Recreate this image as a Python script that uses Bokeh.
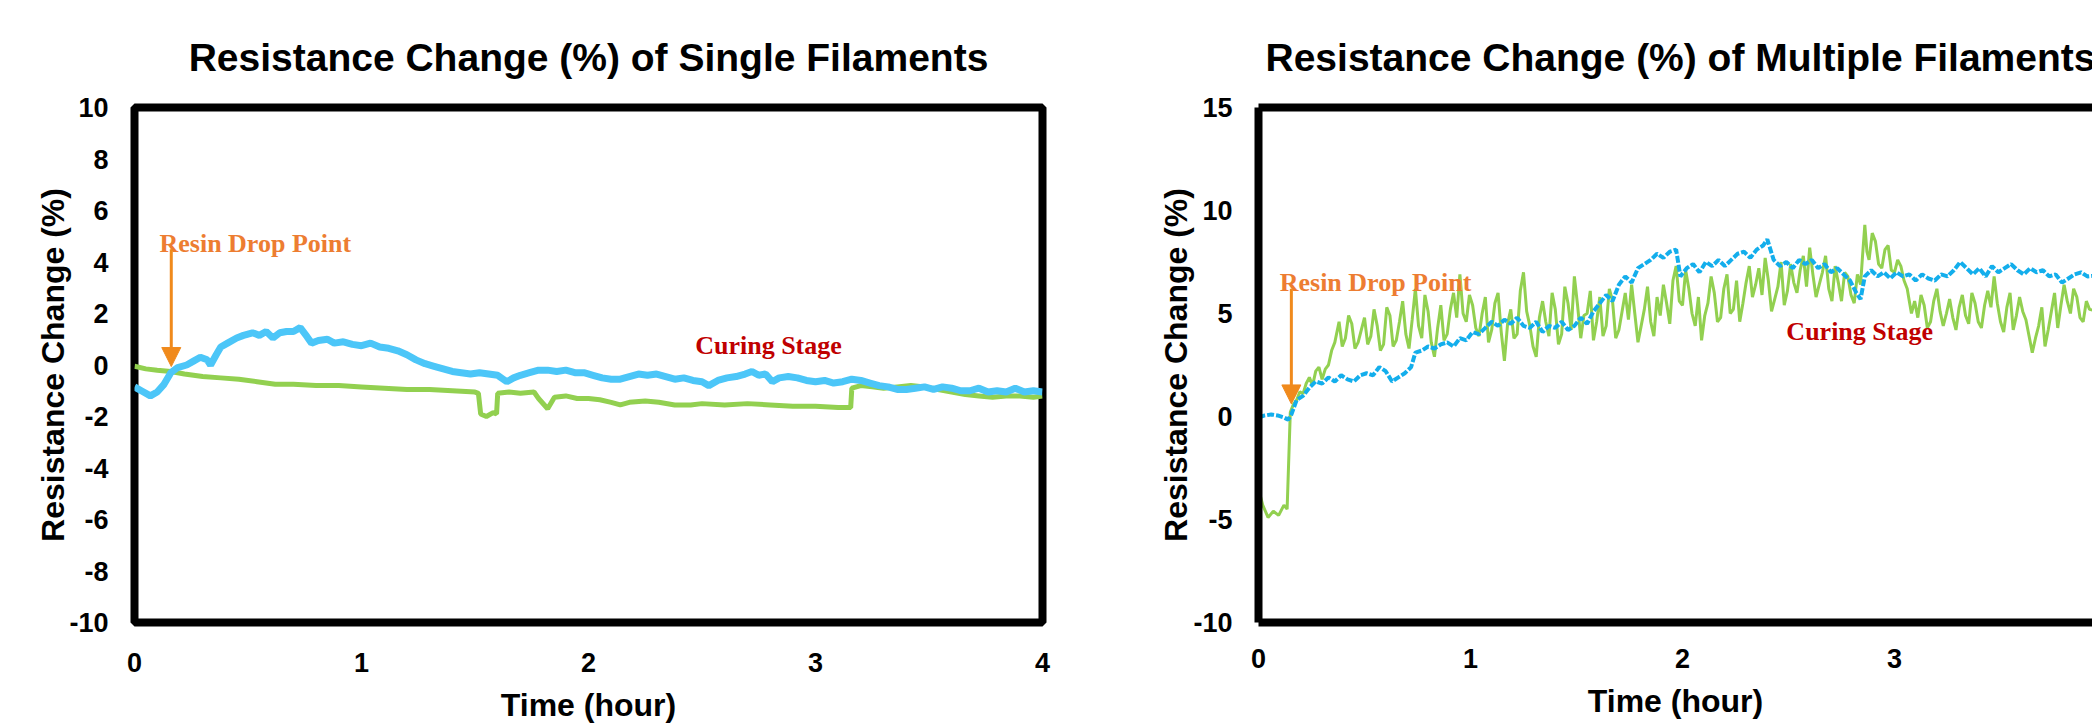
from bokeh.plotting import figure
from bokeh.models import FixedTicker, LinearAxis, Label, Arrow, NormalHead, Range1d
from bokeh.layouts import row
from bokeh.embed import file_html
from bokeh.resources import INLINE

# ---------------- data ----------------
x_ticks = [0, 1, 2, 3, 4]
single_y_ticks = [-10, -8, -6, -4, -2, 0, 2, 4, 6, 8, 10]
multi_y_ticks = [-10, -5, 0, 5, 10, 15]

single_blue_t = [0.00, 0.03, 0.07, 0.10, 0.13, 0.16, 0.19, 0.23, 0.26, 0.29, 0.32, 0.335, 0.36, 0.38, 0.41,
                 0.45, 0.48, 0.52, 0.55, 0.58, 0.61, 0.64, 0.67, 0.70, 0.73, 0.76, 0.78, 0.81, 0.85, 0.88,
                 0.92, 0.96, 1.00, 1.04, 1.08, 1.12, 1.16, 1.20, 1.24, 1.28, 1.32, 1.36, 1.40, 1.44, 1.48,
                 1.52, 1.56, 1.60, 1.64, 1.67, 1.70, 1.74, 1.78, 1.82, 1.86, 1.90, 1.94, 1.98, 2.02, 2.06,
                 2.10, 2.14, 2.18, 2.22, 2.26, 2.30, 2.34, 2.38, 2.42, 2.46, 2.50, 2.53, 2.57, 2.61, 2.65,
                 2.69, 2.72, 2.75, 2.78, 2.81, 2.84, 2.88, 2.92, 2.96, 3.00, 3.04, 3.08, 3.12, 3.16, 3.20,
                 3.24, 3.28, 3.32, 3.36, 3.40, 3.44, 3.48, 3.52, 3.56, 3.60, 3.64, 3.68, 3.72, 3.76, 3.80,
                 3.84, 3.88, 3.92, 3.96, 4.00]
single_blue_v = [-0.85, -1.0, -1.2, -1.05, -0.75, -0.3, -0.1, 0.0, 0.15, 0.3, 0.2, 0.0, 0.4, 0.7, 0.85,
                 1.05, 1.15, 1.25, 1.15, 1.3, 1.05, 1.25, 1.3, 1.3, 1.45, 1.1, 0.85, 0.95, 1.0, 0.85,
                 0.9, 0.8, 0.75, 0.85, 0.7, 0.65, 0.55, 0.4, 0.2, 0.05, -0.05, -0.15, -0.25, -0.3, -0.35,
                 -0.3, -0.35, -0.4, -0.65, -0.5, -0.4, -0.3, -0.2, -0.2, -0.25, -0.2, -0.3, -0.3, -0.4, -0.5,
                 -0.55, -0.55, -0.45, -0.35, -0.4, -0.35, -0.45, -0.55, -0.5, -0.6, -0.65, -0.8, -0.6, -0.5, -0.45,
                 -0.35, -0.25, -0.4, -0.35, -0.65, -0.5, -0.45, -0.5, -0.6, -0.65, -0.6, -0.7, -0.65, -0.55, -0.6,
                 -0.7, -0.8, -0.85, -0.95, -0.95, -0.9, -0.85, -0.95, -0.85, -0.9, -1.0, -1.0, -0.9, -1.05, -1.0,
                 -1.05, -0.9, -1.05, -1.0, -1.05]

single_green_t = [0.00, 0.05, 0.10, 0.16, 0.22, 0.30, 0.38, 0.46, 0.54, 0.62, 0.70, 0.80, 0.90, 1.00, 1.10,
                  1.20, 1.30, 1.40, 1.50, 1.515, 1.525, 1.55, 1.58, 1.595, 1.60, 1.65, 1.70, 1.76, 1.78, 1.82,
                  1.85, 1.90, 1.95, 2.00, 2.05, 2.10, 2.14, 2.18, 2.25, 2.31, 2.38, 2.45, 2.50, 2.60, 2.70,
                  2.80, 2.90, 3.00, 3.10, 3.155, 3.16, 3.20, 3.25, 3.30, 3.36, 3.42, 3.48, 3.54, 3.60, 3.66,
                  3.72, 3.78, 3.84, 3.90, 3.96, 4.00]
single_green_v = [-0.05, -0.15, -0.2, -0.25, -0.35, -0.45, -0.5, -0.55, -0.65, -0.75, -0.75, -0.8, -0.8, -0.85, -0.9,
                  -0.95, -0.95, -1.0, -1.05, -1.1, -1.9, -2.0, -1.85, -1.9, -1.1, -1.05, -1.1, -1.05, -1.3, -1.7,
                  -1.25, -1.2, -1.3, -1.3, -1.35, -1.45, -1.55, -1.45, -1.4, -1.45, -1.55, -1.55, -1.5, -1.55, -1.5,
                  -1.55, -1.6, -1.6, -1.65, -1.65, -0.9, -0.8, -0.85, -0.9, -0.85, -0.8, -0.85, -0.95, -1.05, -1.15,
                  -1.2, -1.25, -1.2, -1.2, -1.25, -1.2]

multi_blue_t = [0.00, 0.03, 0.06, 0.09, 0.12, 0.14, 0.155, 0.18, 0.21, 0.24, 0.27, 0.30, 0.33, 0.36, 0.39,
                0.42, 0.45, 0.48, 0.51, 0.54, 0.57, 0.60, 0.63, 0.66, 0.69, 0.72, 0.74, 0.77, 0.80, 0.83,
                0.86, 0.89, 0.92, 0.95, 0.98, 1.01, 1.04, 1.07, 1.10, 1.13, 1.16, 1.19, 1.22, 1.25, 1.28,
                1.31, 1.34, 1.37, 1.40, 1.43, 1.46, 1.49, 1.52, 1.55, 1.58, 1.61, 1.64, 1.67, 1.70, 1.73,
                1.76, 1.79, 1.82, 1.85, 1.88, 1.91, 1.94, 1.97, 1.99, 2.02, 2.05, 2.08, 2.11, 2.14, 2.17,
                2.20, 2.23, 2.26, 2.29, 2.32, 2.35, 2.38, 2.40, 2.43, 2.46, 2.49, 2.52, 2.55, 2.58, 2.61,
                2.64, 2.67, 2.70, 2.73, 2.76, 2.79, 2.82, 2.84, 2.86, 2.89, 2.92, 2.95, 2.98, 3.01, 3.04,
                3.07, 3.10, 3.13, 3.16, 3.19, 3.22, 3.25, 3.28, 3.31, 3.34, 3.37, 3.40, 3.43, 3.46, 3.49,
                3.52, 3.55, 3.58, 3.61, 3.64, 3.67, 3.70, 3.73, 3.76, 3.79, 3.82, 3.85, 3.88, 3.91, 4.00]
multi_blue_v = [-0.05, 0.05, 0.1, 0.05, -0.05, -0.15, 0.1, 0.8, 1.0, 1.4, 1.7, 1.6, 1.9, 1.7, 2.0,
                1.8, 1.7, 2.0, 2.1, 2.0, 2.4, 2.2, 1.7, 1.9, 2.1, 2.4, 3.1, 3.2, 3.4, 3.3,
                3.5, 3.6, 3.4, 3.8, 3.7, 4.1, 4.0, 4.3, 4.6, 4.4, 4.7, 4.5, 4.8, 4.4, 4.3,
                4.6, 4.1, 4.4, 4.3, 4.6, 4.2, 4.4, 4.8, 4.5, 5.1, 5.5, 5.9, 5.6, 6.4, 6.8,
                6.5, 7.2, 7.4, 7.6, 7.9, 7.7, 8.0, 8.1, 6.8, 7.2, 7.4, 7.0, 7.5, 7.3, 7.6,
                7.3, 7.6, 7.9, 8.0, 7.7, 8.1, 8.3, 8.6, 7.6, 7.3, 7.5, 7.2, 7.6, 7.4, 7.6,
                7.2, 7.4, 7.0, 7.2, 6.9, 6.6, 6.0, 5.7, 6.8, 7.1, 6.8, 7.0, 6.7, 7.0, 6.8,
                6.9, 6.6, 6.9, 6.7, 6.6, 6.9, 6.8, 7.1, 7.5, 7.2, 6.9, 7.2, 6.8, 7.3, 7.0,
                7.2, 7.4, 7.1, 6.9, 7.2, 7.0, 7.1, 6.8, 6.9, 6.5, 6.7, 6.9, 7.0, 6.8, 6.9]

multi_green_points = [
    (0.000, -3.5), (0.020, -4.3), (0.045, -4.9), (0.070, -4.6), (0.095, -4.8), (0.120, -4.3), (0.135, -4.5),
    (0.150, 0.2), (0.165, 0.6), (0.180, 0.8), (0.195, 1.2), (0.210, 1.1), (0.225, 1.6), (0.240, 1.9),
    (0.255, 1.5), (0.270, 2.2), (0.285, 2.4), (0.300, 1.8), (0.315, 2.3), (0.330, 2.5), (0.345, 3.2),
    (0.360, 3.6), (0.380, 4.6), (0.395, 3.4), (0.410, 3.8), (0.425, 4.9), (0.440, 4.5), (0.455, 3.3),
    (0.470, 3.6), (0.485, 4.2), (0.500, 4.8), (0.515, 3.5), (0.530, 3.9), (0.545, 5.2), (0.560, 4.4),
    (0.575, 3.2), (0.590, 3.5), (0.605, 5.3), (0.620, 4.9), (0.635, 3.4), (0.650, 3.7), (0.665, 4.6),
    (0.680, 5.6), (0.695, 4.0), (0.710, 3.3), (0.725, 4.7), (0.740, 6.2), (0.755, 4.4), (0.770, 3.8),
    (0.785, 5.9), (0.800, 5.1), (0.815, 3.6), (0.830, 2.9), (0.845, 4.3), (0.860, 5.4), (0.875, 3.7),
    (0.890, 4.0), (0.905, 5.2), (0.920, 6.0), (0.935, 4.8), (0.950, 6.9), (0.965, 5.0), (0.980, 4.6),
    (0.995, 5.9), (1.010, 5.4), (1.025, 4.3), (1.040, 3.9), (1.055, 5.0), (1.070, 5.8), (1.085, 3.6),
    (1.100, 4.2), (1.115, 5.5), (1.130, 6.0), (1.145, 4.1), (1.160, 2.7), (1.175, 4.5), (1.190, 5.2),
    (1.205, 3.8), (1.220, 4.0), (1.235, 6.1), (1.250, 7.0), (1.265, 5.1), (1.280, 4.4), (1.295, 3.4),
    (1.310, 2.9), (1.325, 4.8), (1.340, 5.6), (1.355, 4.6), (1.370, 3.9), (1.385, 6.0), (1.400, 5.2),
    (1.415, 3.5), (1.430, 4.0), (1.445, 6.3), (1.460, 5.5), (1.475, 4.2), (1.490, 6.8), (1.505, 5.4),
    (1.520, 3.8), (1.535, 4.9), (1.550, 5.0), (1.565, 6.1), (1.580, 3.7), (1.595, 4.6), (1.610, 5.8),
    (1.625, 3.9), (1.640, 4.4), (1.655, 6.2), (1.670, 5.6), (1.685, 3.8), (1.700, 4.2), (1.715, 5.1),
    (1.730, 6.0), (1.745, 4.7), (1.760, 6.4), (1.775, 5.0), (1.790, 3.6), (1.805, 4.4), (1.820, 5.2),
    (1.835, 6.3), (1.850, 4.6), (1.865, 3.9), (1.880, 5.8), (1.895, 4.9), (1.910, 6.4), (1.925, 5.5),
    (1.940, 4.5), (1.955, 6.6), (1.970, 7.3), (1.985, 5.6), (2.000, 5.4), (2.015, 7.1), (2.030, 6.2),
    (2.045, 5.0), (2.060, 4.4), (2.075, 5.8), (2.090, 3.7), (2.105, 4.9), (2.120, 5.5), (2.135, 6.8),
    (2.150, 6.0), (2.165, 4.6), (2.180, 4.8), (2.195, 6.2), (2.210, 6.9), (2.225, 5.0), (2.240, 5.2),
    (2.255, 6.6), (2.270, 4.6), (2.285, 5.5), (2.300, 6.5), (2.315, 7.3), (2.330, 5.8), (2.345, 6.4),
    (2.360, 7.2), (2.375, 5.9), (2.390, 7.7), (2.405, 6.6), (2.420, 5.1), (2.435, 5.7), (2.450, 6.3),
    (2.465, 7.5), (2.480, 5.4), (2.495, 6.1), (2.510, 7.4), (2.525, 6.5), (2.540, 6.0), (2.555, 7.1),
    (2.570, 7.8), (2.585, 6.3), (2.600, 8.2), (2.615, 6.9), (2.630, 5.8), (2.645, 6.4), (2.660, 7.0),
    (2.675, 7.8), (2.690, 6.2), (2.705, 5.6), (2.720, 7.3), (2.735, 6.5), (2.750, 5.6), (2.765, 7.0),
    (2.780, 6.8), (2.795, 5.9), (2.810, 5.5), (2.825, 6.9), (2.840, 6.4), (2.850, 7.9), (2.860, 9.3),
    (2.870, 8.0), (2.880, 7.6), (2.895, 8.9), (2.910, 8.5), (2.925, 7.4), (2.940, 7.2), (2.955, 8.1),
    (2.970, 8.3), (2.985, 7.1), (3.000, 7.0), (3.015, 7.6), (3.030, 7.3), (3.045, 6.6), (3.060, 6.2),
    (3.070, 5.6), (3.080, 5.0), (3.095, 5.6), (3.110, 4.8), (3.125, 5.9), (3.140, 5.4), (3.155, 4.3),
    (3.170, 4.6), (3.185, 5.6), (3.200, 6.2), (3.215, 5.1), (3.230, 4.4), (3.245, 5.0), (3.260, 5.7),
    (3.275, 4.8), (3.290, 4.2), (3.305, 5.3), (3.320, 5.9), (3.335, 4.9), (3.350, 4.5), (3.365, 6.0),
    (3.380, 5.5), (3.395, 4.6), (3.410, 4.3), (3.425, 5.4), (3.440, 6.1), (3.455, 5.3), (3.470, 6.8),
    (3.485, 5.5), (3.500, 4.6), (3.515, 4.1), (3.530, 5.3), (3.545, 6.0), (3.560, 4.2), (3.575, 4.9),
    (3.590, 5.8), (3.605, 5.1), (3.620, 4.7), (3.635, 3.9), (3.650, 3.1), (3.665, 3.8), (3.680, 4.4),
    (3.695, 5.3), (3.710, 3.4), (3.725, 4.2), (3.740, 5.1), (3.755, 6.0), (3.770, 4.3), (3.785, 5.4),
    (3.800, 6.4), (3.815, 5.6), (3.830, 5.0), (3.845, 6.2), (3.860, 5.8), (3.875, 4.8), (3.890, 4.6),
    (3.905, 5.6), (3.920, 5.2), (4.000, 5.0),
]
multi_green_t = [pt[0] for pt in multi_green_points]
multi_green_v = [pt[1] for pt in multi_green_points]

single_title = "Resistance Change (%) of Single Filaments"
multi_title = "Resistance Change (%) of Multiple Filaments"
x_label = "Time (hour)"
y_label = "Resistance Change (%)"
drop_text = "Resin Drop Point"
cure_text = "Curing Stage"

# ---------------- style ----------------
ARIAL = "Liberation Sans"
TIMES = "Liberation Serif"
GREEN = "#92D050"
BLUE_S = "#4CC6F8"
BLUE_M = "#13AEEC"
ORANGE_T = "#ED7D31"
ORANGE_A = "#F08A1C"
RED = "#C00000"


def style_axis(ax, ticks):
    ax.ticker = FixedTicker(ticks=ticks)
    # plain ASCII hyphen for negative numbers, as in the original
    ax.major_label_overrides = {t: str(t) for t in ticks}
    ax.major_tick_line_color = None
    ax.minor_tick_line_color = None
    ax.major_tick_out = 0
    ax.major_tick_in = 0
    ax.major_label_text_font = ARIAL
    ax.major_label_text_font_style = "bold"
    ax.major_label_text_font_size = "27px"
    ax.major_label_text_color = "black"
    ax.axis_label_text_font = ARIAL
    ax.axis_label_text_font_style = "bold"
    ax.axis_label_text_font_size = "32px"
    ax.axis_label_text_color = "black"


def style_title(p, text, align, offset):
    p.title.text = text
    p.title.text_font = ARIAL
    p.title.text_font_style = "bold"
    p.title.text_font_size = "39px"
    p.title.align = align
    p.title.offset = offset
    p.title.standoff = 57
    p.title.text_color = "black"


# ---------------- left: single filaments ----------------
p1 = figure(width=1100, height=725, x_range=Range1d(0, 4), y_range=Range1d(-10, 10),
            output_backend="svg", toolbar_location=None,
            min_border_left=134, min_border_right=58, min_border_top=103, min_border_bottom=103)
p1.grid.visible = False
p1.outline_line_color = "black"
p1.outline_line_width = 8
p1.outline_line_alpha = 1.0
style_axis(p1.xaxis[0], x_ticks)
style_axis(p1.yaxis[0], single_y_ticks)
p1.xaxis.axis_line_color = None
p1.yaxis.axis_line_color = None
p1.xaxis.axis_label = x_label
p1.yaxis.axis_label = y_label
p1.xaxis.major_label_standoff = 30
p1.yaxis.major_label_standoff = 26
p1.xaxis.axis_label_standoff = 12
p1.yaxis.axis_label_standoff = -5
style_title(p1, single_title, "center", 0)

p1.line(single_green_t, single_green_v, line_color=GREEN, line_width=5)
p1.line(single_blue_t, single_blue_v, line_color=BLUE_S, line_width=7)

p1.add_layout(Label(x=0.11, y=4.72, text=drop_text, text_font=TIMES, text_font_style="bold",
                    text_font_size="26px", text_color=ORANGE_T, text_baseline="alphabetic"))
p1.add_layout(Arrow(end=NormalHead(size=19, fill_color=ORANGE_A, line_color=ORANGE_A),
                    x_start=0.162, y_start=4.5, x_end=0.162, y_end=-0.06,
                    line_color=ORANGE_A, line_width=3))
p1.add_layout(Label(x=2.47, y=0.75, text=cure_text, text_font=TIMES, text_font_style="bold",
                    text_font_size="26px", text_color=RED, text_baseline="middle"))

# ---------------- right: multiple filaments ----------------
p2 = figure(width=992, height=725, x_range=Range1d(0, 3.934), y_range=Range1d(-10, 15),
            output_backend="svg", toolbar_location=None,
            min_border_left=158, min_border_right=0, min_border_top=107, min_border_bottom=99)
p2.grid.visible = False
p2.outline_line_color = None
style_axis(p2.xaxis[0], x_ticks)
style_axis(p2.yaxis[0], multi_y_ticks)
for ax in (p2.xaxis[0], p2.yaxis[0]):
    ax.axis_line_color = "black"
    ax.axis_line_width = 8
p2.xaxis.axis_label = x_label
p2.yaxis.axis_label = y_label
p2.xaxis.major_label_standoff = 26
p2.yaxis.major_label_standoff = 26
p2.xaxis.axis_label_standoff = 12
p2.yaxis.axis_label_standoff = -4
top_axis = LinearAxis(ticker=FixedTicker(ticks=[]), axis_line_color="black", axis_line_width=8,
                      major_tick_line_color=None, minor_tick_line_color=None)
p2.add_layout(top_axis, "above")
style_title(p2, multi_title, "left", 7)

p2.line(multi_green_t, multi_green_v, line_color=GREEN, line_width=3)
p2.line(multi_blue_t, multi_blue_v, line_color=BLUE_M, line_width=4, line_dash="7 2")

p2.add_layout(Label(x=0.10, y=6.5, text=drop_text, text_font=TIMES, text_font_style="bold",
                    text_font_size="26px", text_color=ORANGE_T, text_baseline="alphabetic"))
p2.add_layout(Arrow(end=NormalHead(size=19, fill_color=ORANGE_A, line_color=ORANGE_A),
                    x_start=0.155, y_start=6.2, x_end=0.155, y_end=0.61,
                    line_color=ORANGE_A, line_width=3))
p2.add_layout(Label(x=2.49, y=4.15, text=cure_text, text_font=TIMES, text_font_style="bold",
                    text_font_size="26px", text_color=RED, text_baseline="middle"))

layout = row(p1, p2)
open("out.html", "w").write(file_html(layout, INLINE))
